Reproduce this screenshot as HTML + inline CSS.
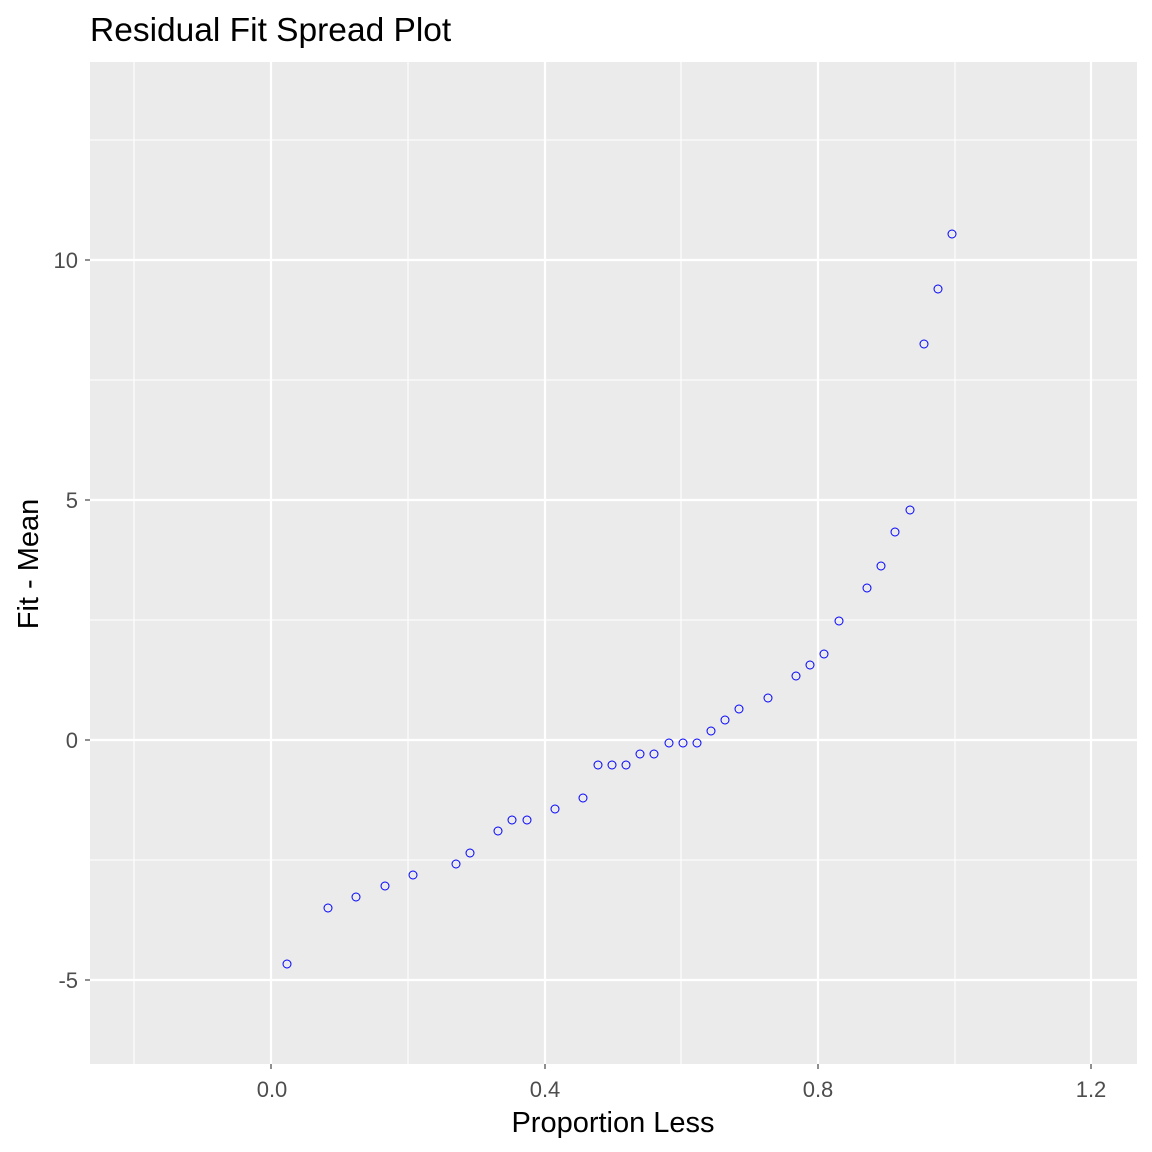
<!DOCTYPE html>
<html><head><style>body{margin:0;background:#fff}svg{display:block}</style></head><body>
<svg width="1152" height="1152" xmlns="http://www.w3.org/2000/svg" font-family="Liberation Sans, sans-serif">
<rect width="1152" height="1152" fill="#fff"/>
<rect x="90" y="62" width="1047" height="1002" fill="#EBEBEB"/>
<g stroke="#fff" stroke-width="1.1">
<line x1="134" y1="62" x2="134" y2="1064"/><line x1="408" y1="62" x2="408" y2="1064"/><line x1="681" y1="62" x2="681" y2="1064"/><line x1="955" y1="62" x2="955" y2="1064"/>
<line x1="90" y1="140" x2="1137" y2="140"/><line x1="90" y1="380" x2="1137" y2="380"/><line x1="90" y1="620" x2="1137" y2="620"/><line x1="90" y1="860" x2="1137" y2="860"/>
</g>
<g stroke="#fff" stroke-width="2.2">
<line x1="271" y1="62" x2="271" y2="1064"/><line x1="545" y1="62" x2="545" y2="1064"/><line x1="818" y1="62" x2="818" y2="1064"/><line x1="1091" y1="62" x2="1091" y2="1064"/>
<line x1="90" y1="260" x2="1137" y2="260"/><line x1="90" y1="500" x2="1137" y2="500"/><line x1="90" y1="740" x2="1137" y2="740"/><line x1="90" y1="980" x2="1137" y2="980"/>
</g>
<g stroke="#333" stroke-width="1.1">
<line x1="271" y1="1064" x2="271" y2="1069"/><line x1="545" y1="1064" x2="545" y2="1069"/><line x1="818" y1="1064" x2="818" y2="1069"/><line x1="1091" y1="1064" x2="1091" y2="1069"/>
<line x1="85" y1="260" x2="90" y2="260"/><line x1="85" y1="500" x2="90" y2="500"/><line x1="85" y1="740" x2="90" y2="740"/><line x1="85" y1="980" x2="90" y2="980"/>
</g>
<g fill="#4D4D4D" font-size="22" text-anchor="middle">
<text x="272" y="1097">0.0</text><text x="545" y="1097">0.4</text><text x="818" y="1097">0.8</text><text x="1091" y="1097">1.2</text>
</g>
<g fill="#4D4D4D" font-size="22" text-anchor="end">
<text x="78" y="268">10</text><text x="78" y="508">5</text><text x="78" y="748">0</text><text x="78" y="988">-5</text>
</g>
<text x="613" y="1132" font-size="29" text-anchor="middle">Proportion Less</text>
<text transform="translate(38,564) rotate(-90)" font-size="29" text-anchor="middle">Fit - Mean</text>
<text x="90" y="41" font-size="33.5">Residual Fit Spread Plot</text>
<g fill="none" stroke="#0000FF" stroke-width="1">
<circle cx="287" cy="964" r="4"/><circle cx="328" cy="908" r="4"/><circle cx="356" cy="897" r="4"/><circle cx="385" cy="886" r="4"/><circle cx="413" cy="875" r="4"/><circle cx="456" cy="864" r="4"/><circle cx="470" cy="853" r="4"/><circle cx="498" cy="831" r="4"/><circle cx="512" cy="820" r="4"/><circle cx="527" cy="820" r="4"/><circle cx="555" cy="809" r="4"/><circle cx="583" cy="798" r="4"/><circle cx="598" cy="765" r="4"/><circle cx="612" cy="765" r="4"/><circle cx="626" cy="765" r="4"/><circle cx="640" cy="754" r="4"/><circle cx="654" cy="754" r="4"/><circle cx="669" cy="743" r="4"/><circle cx="683" cy="743" r="4"/><circle cx="697" cy="743" r="4"/><circle cx="711" cy="731" r="4"/><circle cx="725" cy="720" r="4"/><circle cx="739" cy="709" r="4"/><circle cx="768" cy="698" r="4"/><circle cx="796" cy="676" r="4"/><circle cx="810" cy="665" r="4"/><circle cx="824" cy="654" r="4"/><circle cx="839" cy="621" r="4"/><circle cx="867" cy="588" r="4"/><circle cx="881" cy="566" r="4"/><circle cx="895" cy="532" r="4"/><circle cx="910" cy="510" r="4"/><circle cx="924" cy="344" r="4"/><circle cx="938" cy="289" r="4"/><circle cx="952" cy="234" r="4"/>
</g>
</svg>
</body></html>
